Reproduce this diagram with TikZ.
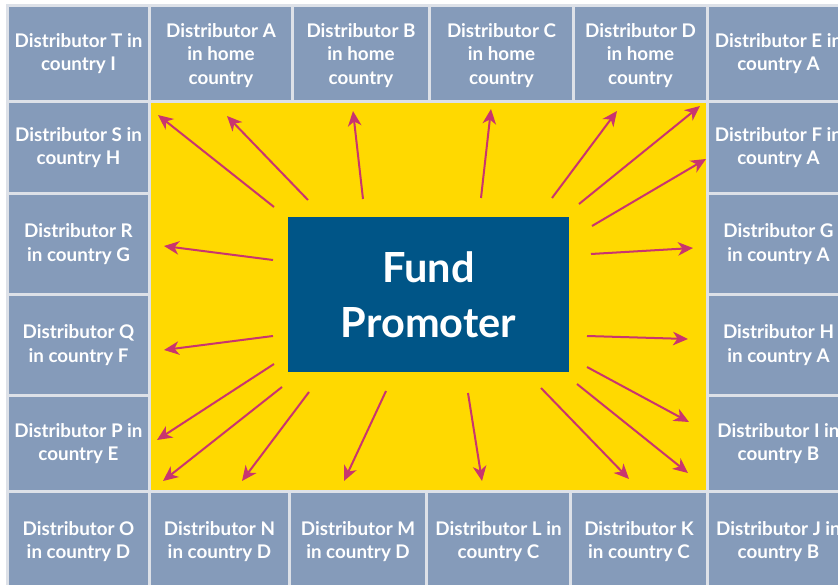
\documentclass[tikz,border=0pt]{standalone}
\usepackage{fontspec}
\setmainfont{Lato}
\usetikzlibrary{arrows.meta}
\definecolor{cellc}{HTML}{859BBA}
\definecolor{gapc}{HTML}{DDE1E8}
\definecolor{yell}{HTML}{FFD900}
\definecolor{promc}{HTML}{005587}
\definecolor{arrc}{HTML}{C9356F}
\newcommand\dcell[6]{%
  \pgfmathsetmacro\cw{#4-#2}\pgfmathsetmacro\ch{#5-#3}%
  \node[cell, minimum width=\cw pt, minimum height=\ch pt] (#1) at ({(#2+#4)/2},{(#3+#5)/2}) {#6};}
\begin{document}
\begin{tikzpicture}[x=1pt,y=-1pt,
  cell/.style={fill=cellc, text=white, font=\bfseries\fontsize{18.8}{23.5}\selectfont, align=center, inner sep=0pt},
  arr/.style={draw=arrc, line width=2pt, -{Stealth[length=15pt,width=13.5pt,inset=4.5pt]}}]
\useasboundingbox (0,0) rectangle (838,585);
\clip (0,0) rectangle (838,585);
\fill[white] (0,0) rectangle (838,585);
\fill[gapc] (6,4) rectangle (850,600);
% top row
\dcell{T}{9}{7}{148}{100}{Distributor T in\\country I}
\dcell{A}{151}{9}{291}{102}{Distributor A\\in home\\country}
\dcell{B}{294}{9}{428}{102}{Distributor B\\in home\\country}
\dcell{C}{431}{9}{572}{102}{Distributor C\\in home\\country}
\dcell{D}{575}{9}{706}{102}{Distributor D\\in home\\country}
\dcell{E}{709}{7}{848}{100}{Distributor E in\\country A}
% left column
\dcell{S}{9}{103}{148}{192}{Distributor S in\\country H}
\dcell{R}{9}{195}{148}{293}{Distributor R\\in country G}
\dcell{Q}{9}{296}{148}{394}{Distributor Q\\in country F}
\dcell{P}{9}{397}{148}{490}{Distributor P in\\country E}
% right column
\dcell{F}{709}{103}{848}{192}{Distributor F in\\country A}
\dcell{G}{709}{195}{848}{293}{Distributor G\\in country A}
\dcell{H}{709}{296}{848}{394}{Distributor H\\in country A}
\dcell{I}{709}{397}{848}{490}{Distributor I in\\country B}
% bottom row
\dcell{O}{9}{493}{148}{590}{Distributor O\\in country D}
\dcell{N}{151}{493}{288}{590}{Distributor N\\in country D}
\dcell{M}{291}{493}{425}{590}{Distributor M\\in country D}
\dcell{L}{428}{493}{569}{590}{Distributor L in\\country C}
\dcell{K}{572}{493}{706}{590}{Distributor K\\in country C}
\dcell{J}{709}{493}{848}{590}{Distributor J in\\country B}
% fix top-row gap below middle cells
\fill[gapc] (148,100) rectangle (709,103);
\fill[cellc] (151,7) rectangle (291,9);
\fill[cellc] (294,7) rectangle (428,9);
\fill[cellc] (431,7) rectangle (572,9);
\fill[cellc] (575,7) rectangle (706,9);
% yellow field
\fill[yell] (151,103) rectangle (706,490);
% promoter
\node[fill=promc, text=white, minimum width=281pt, minimum height=155pt, inner sep=0pt, align=center,
  font=\bfseries\fontsize{41.5}{55}\selectfont] (fp) at (428.5,294.5) {Fund\\Promoter};
% arrows
\foreach \n/\sx/\sy/\tx/\ty in {
  1/274/207/158/115, 2/308/200/227/116, 3/363/199/353/111, 4/481/198/491/109,
  5/552/198/617/111, 6/579/204/700/106, 7/592/226/706/159, 8/591/254/693/248,
  9/587/336/688/339, 10/587/367/689/422, 11/577/384/688/473, 12/541/388/629/479,
  13/468/393/482/481, 14/386/391/344/481, 15/309/392/242/481, 16/282/387/163/481,
  17/274/364/157/440, 18/273/336/164/350, 19/273/260/164/246}{
  \coordinate (s\n) at (\sx,\sy);
  \coordinate (t\n) at (\tx,\ty);
  \draw[arr] (s\n) -- (t\n);
}
\end{tikzpicture}
\end{document}
